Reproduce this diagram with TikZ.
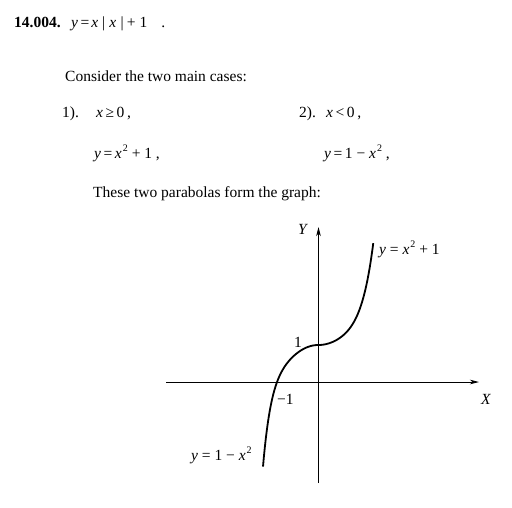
\documentclass[tikz,border=0pt]{standalone}
\usepackage{fontspec}
\setmainfont{Liberation Serif}
\usetikzlibrary{arrows.meta}
\newcommand{\vi}[1]{\textit{#1}}
\newcommand{\sqr}{\kern1pt\raisebox{0.42em}{\fontsize{10}{10}\selectfont 2}}
\begin{document}
\begin{tikzpicture}[x=1pt,y=-1pt,
  txt/.style={anchor=base west, inner sep=0pt, font=\fontsize{15.5}{18}\selectfont},
  axis/.style={line width=0.9pt, -{Stealth[length=9pt,width=4.5pt,inset=2.5pt]}},
  curve/.style={line width=1.8pt, line join=round}]
\useasboundingbox (0,0) rectangle (512,507);
\fill[white] (0,0) rectangle (512,507);
% header text
\node[txt] (num) at (14,27) {\textbf{14.004.}};
\node[txt] (eq) at (71,27) {\vi{y}\kern2.5pt=\kern2pt\vi{x}\kern4pt|\kern4pt\vi{x}\kern4.5pt|\kern3pt+\kern4pt1\kern14pt.};
\node[txt] (cons) at (65,81) {Consider the two main cases:};
\node[txt] (c1) at (62,117) {1).};
\node[txt] (c1a) at (96,117) {\vi{x}\,≥\,0\,,};
\node[txt] (c2) at (299,117) {2).};
\node[txt] (c2a) at (326,117) {\vi{x}\,<\,0\,,};
\node[txt] (c1b) at (94,158) {\vi{y}\,=\,\vi{x}\sqr\ +\ 1\ ,};
\node[txt] (c2b) at (324,158) {\vi{y}\,=\,1\ −\ \vi{x}\sqr\ ,};
\node[txt] (these) at (93,197) {These two parabolas form the graph:};
% axes
\coordinate (xs) at (166,382);
\coordinate (xe) at (479,382);
\coordinate (ys) at (318.5,483);
\coordinate (ye) at (318.5,227);
\draw[axis] (xs) -- (xe);
\draw[axis] (ys) -- (ye);
\node[txt] (X) at (481,404) {\vi{X}};
\node[txt] (Y) at (298,234) {\vi{Y}};
\node[txt] (one) at (294,347) {1};
\node[txt] (mone) at (277,404) {−1};
% curve
\draw[curve] plot[domain=-1:0, samples=60] ({318.3+55.3*\x},{345+55*(\x*\x+1.21*(\x*\x)^4)})
  -- plot[domain=0:1, samples=60] ({318.3+55*\x},{345-45*(\x*\x+1.27*(\x*\x)^3)});
\node[txt] (l1) at (379,254) {\vi{y} = \vi{x}\sqr\ + 1};
\node[txt] (l2) at (191,460) {\vi{y} = 1 − \vi{x}\sqr};
\end{tikzpicture}
\end{document}
